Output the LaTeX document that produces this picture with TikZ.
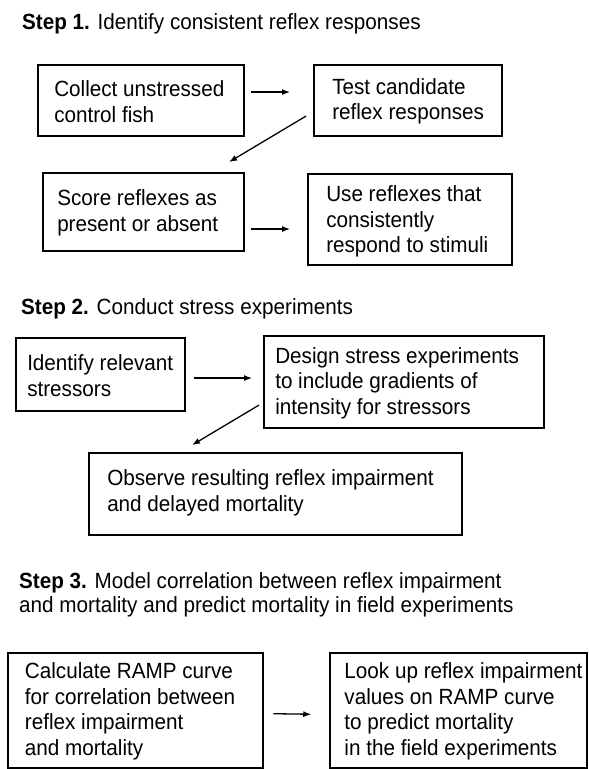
\documentclass[tikz,border=0pt]{standalone}
\usepackage{fontspec}
\setmainfont{Liberation Sans}[FakeStretch=0.94]
\usetikzlibrary{calc,arrows.meta,shadows}
\begin{document}
\begin{tikzpicture}[x=1pt,y=-1pt,
  fnt/.style={font=\fontsize{22}{25.5}\selectfont},
  box/.style={draw, line width=1.9pt, fill=white, inner sep=0pt,
    drop shadow={shadow xshift=1.2pt, shadow yshift=-1.2pt, fill=black, opacity=0.8}},
  txt/.style={fnt, align=left, inner sep=0pt, anchor=west},
  ttl/.style={font=\fontsize{22}{24}\selectfont, align=left, inner sep=0pt, anchor=west},
  arr/.style={-{Latex[length=8pt,width=6pt]}, line width=1.3pt}]
\useasboundingbox (0,0) rectangle (589,769);

% ---------- Step 1 ----------
\node[ttl] (t1) at (22,24.3) {\textbf{Step 1.} Identify consistent reflex responses};

\node[box, minimum width=206pt, minimum height=71pt] (A) at (141,100.5) {};
\node[txt] (At) at ($(A.west)+(17,1)$) {Collect unstressed\\control fish};

\node[box, minimum width=188pt, minimum height=71pt] (B) at (408,100.5) {};
\node[txt] (Bt) at ($(B.west)+(19,1)$) {Test candidate\\reflex responses};

\node[box, minimum width=201pt, minimum height=78pt] (C) at (143.5,212) {};
\node[txt] (Ct) at ($(C.west)+(15,1)$) {Score reflexes as\\present or absent};

\node[box, minimum width=204pt, minimum height=91pt] (D) at (410,219.5) {};
\node[txt] (Dt) at ($(D.west)+(19,2)$) {Use reflexes that\\consistently\\respond to stimuli};

\draw[arr] ($(A.north east)+(6,28)$) -- ($(B.north west)+(-23,28)$);
\draw[arr] ($(B.north west)+(-7,52)$) -- ($(C.north west)+(187,-10)$);
\draw[arr] ($(C.north east)+(6,57)$) -- ($(D.north west)+(-17,56)$);

% ---------- Step 2 ----------
\node[ttl] (t2) at (21,309.3) {\textbf{Step 2.} Conduct stress experiments};

\node[box, minimum width=169pt, minimum height=73pt] (E) at (100.5,374.5) {};
\node[txt] (Et) at ($(E.west)+(12,1)$) {Identify relevant\\stressors};

\node[box, minimum width=280pt, minimum height=92pt] (F) at (404,382) {};
\node[txt] (Ft) at ($(F.west)+(12,1)$) {Design stress experiments\\to include gradients of\\intensity for stressors};

\node[box, minimum width=373pt, minimum height=82pt] (G) at (275.5,494) {};
\node[txt] (Gt) at ($(G.west)+(19,-1)$) {Observe resulting reflex impairment\\and delayed mortality};

\draw[arr] ($(E.north east)+(8,41)$) -- ($(F.north west)+(-11,43)$);
\draw[arr] ($(F.north west)+(-4,70)$) -- ($(G.north west)+(104,-7)$);

% ---------- Step 3 ----------
\node[ttl] (t3) at (19,595.3) {\textbf{Step 3.} Model correlation between reflex impairment\\and mortality and predict mortality in field experiments};

\node[draw, line width=2.6pt, fill=white, inner sep=0pt, minimum width=255pt, minimum height=115pt] (H) at (135.5,710.5) {};
\node[txt] (Ht) at ($(H.west)+(18,1)$) {Calculate RAMP curve\\for correlation between\\reflex impairment\\and mortality};

\node[draw, line width=1.5pt, fill=white, inner sep=0pt, minimum width=257pt, minimum height=115pt] (I) at (458.5,710.5) {};
\node[txt] (It) at ($(I.west)+(15,1)$) {Look up reflex impairment\\values on RAMP curve\\to predict mortality\\in the field experiments};

\draw[arr] ($(H.north east)+(9,62)$) -- ($(I.north west)+(-18,62)$);
\end{tikzpicture}
\end{document}
